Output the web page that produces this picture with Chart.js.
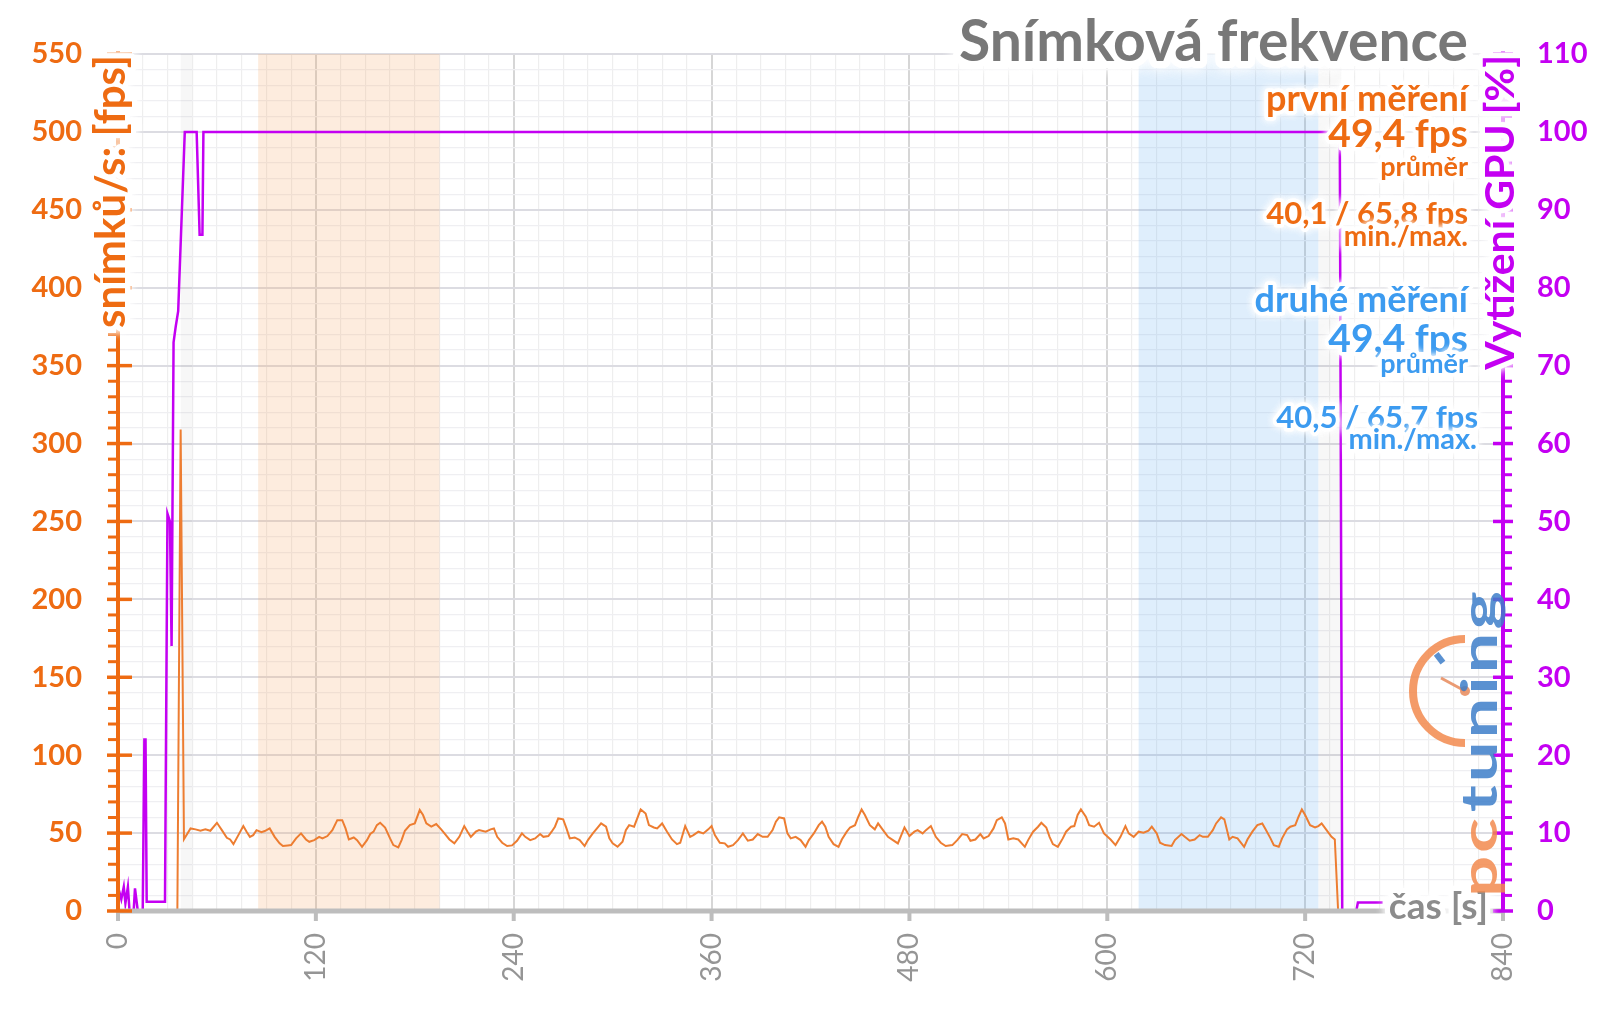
<!DOCTYPE html>
<html lang="cs">
<head>
<meta charset="utf-8">
<title>Snímková frekvence</title>
<script src="https://cdn.jsdelivr.net/npm/chart.js@4.4.1/dist/chart.umd.min.js"></script>
<style>
  html, body { margin: 0; padding: 0; background: #fff; }
  #obal { position: relative; width: 1600px; height: 1009px; }
</style>
</head>
<body>
<div id="obal"><canvas id="graf"></canvas></div>
<script>
// snímky za sekundu (cas v s)
var fpsCas = [0, 36, 38, 40, 44, 47, 50, 53, 56, 60, 63, 66, 68, 70, 73, 76, 78, 80, 82, 84, 87, 89, 92, 95, 98, 100, 103, 105, 108, 111, 114, 116, 119, 122, 124, 127, 130, 133, 136, 138, 140, 143, 145, 148, 151, 153, 155, 157, 159, 162, 165, 167, 170, 172, 174,
  177, 180, 183, 185, 187, 190, 193, 196, 198, 201, 204, 207, 210, 212, 214, 217, 219, 223, 226, 228, 230, 233, 236, 239, 242, 245, 247, 250, 253, 256, 258, 261, 263, 265, 267, 270, 272, 274, 277, 280, 283, 285, 288, 291, 293, 296, 298, 300, 303, 306, 308, 310, 313,
  317, 320, 322, 325, 327, 330, 333, 336, 339, 341, 344, 347, 349, 352, 355, 358, 360, 362, 365, 368, 370, 373, 376, 379, 382, 385, 388, 391, 394, 397, 399, 401, 404, 406, 408, 411, 414, 417, 419, 422, 425, 427, 429, 431, 434, 437, 439, 442, 444, 447, 449, 451,
  453, 456, 459, 461, 464, 467, 470, 473, 477, 480, 483, 485, 488, 490, 493, 496, 499, 502, 506, 509, 512, 515, 517, 520, 523, 525, 528, 531, 533, 536, 538, 540, 543, 546, 550, 552, 555, 558, 560, 563, 565, 567, 570, 573, 575, 578, 580, 582, 584, 587, 589,
  592, 595, 598, 602, 605, 608, 611, 613, 616, 619, 622, 625, 627, 630, 632, 635, 639, 641, 645, 647, 650, 653, 656, 658, 661, 664, 666, 669, 671, 674, 676, 679, 683, 685, 688, 691, 694, 696, 699, 701, 704, 706, 709, 711, 714, 716, 718, 720, 723, 726, 728, 730, 733, 736, 738, 740, 767];
var fpsHodnoty = [0, 0, 309, 46, 53, 52.4, 51.5, 52.4, 51.5, 56.6, 51.9, 47, 45.9, 42.9, 48.7, 54.5, 50.9, 47.6, 48.7, 51.9, 50.6, 51.3, 53, 47.6, 43.4, 41.7, 42.1, 42.3, 46.6, 49.8, 45.9, 44.4, 45.5, 47.6, 46.6, 48.1, 51.9, 58.3, 58.3, 53, 45.9, 47.2, 45.5, 41.2, 45.5, 49.4, 50.9, 55.1, 56.6, 53.6, 46.6, 42.3, 40.8, 45.5, 51.5,
  55.1, 56.2, 64.8, 61.6, 56.2, 54.1, 55.8, 52.4, 49.8, 45.9, 43.4, 47.6, 54.5, 50.9, 47.6, 50.9, 51.9, 50.9, 52.4, 53, 47.6, 43.8, 41.7, 42.1, 45.1, 49.8, 47.6, 45.5, 46.6, 49.4, 47.6, 48.1, 50.9, 54.1, 59.4, 58.8, 53, 46.6, 47.2, 45.5, 41.7, 45.5, 49.8, 53.6, 56.2, 54.1, 46.6, 43.4, 41.2, 44.4, 51.9, 55.1, 54.1,
  65.2, 62.6, 55.1, 53.6, 53, 56.2, 50.9, 45.9, 42.9, 43.8, 54.5, 47.6, 48.7, 50.9, 49.8, 52.4, 54.5, 48.7, 43.8, 43.4, 41.2, 42.3, 45.5, 49.8, 45.1, 45.9, 49.4, 47.6, 47.6, 51.9, 57.3, 60.1, 59.4, 49.8, 46.6, 47.6, 45.5, 41.2, 45.5, 49.8, 55.1, 57.3, 54.1, 47.6, 42.9, 41.2, 45.9, 50.9, 53.6, 55.1, 60.5, 65.2,
  61.6, 55.1, 52.4, 56.2, 51.9, 47.6, 45.5, 43.4, 53.6, 48.1, 50.9, 51.9, 49.8, 51.9, 54.5, 47.6, 43.8, 41.7, 42.3, 45.5, 49.4, 48.7, 45.1, 45.9, 49.4, 46.6, 48.1, 53, 58.3, 60.1, 56.2, 45.9, 46.6, 45.9, 41.2, 45.5, 50.9, 54.1, 56.6, 53.6, 47.6, 42.9, 41.2, 46.6, 50.9, 54.1, 54.5, 61.6, 65.2, 60.5, 55.1,
  54.1, 56.6, 49.8, 45.9, 42.3, 47.6, 54.5, 49.8, 47.6, 50.9, 50.2, 51.5, 54.1, 49.8, 43.8, 42.3, 41.7, 45.5, 49.4, 47.6, 45.1, 45.9, 48.7, 47.6, 47.6, 51.9, 56.2, 60.1, 58.8, 45.9, 47.6, 46.6, 41.2, 45.9, 50.9, 55.1, 56.2, 52.4, 46.6, 42.3, 41.2, 46.6, 52.4, 54.1, 55.1, 60.5, 65.2, 61.6, 55.1, 53.6, 54.5, 56.2, 51.9, 47.6, 45.9, 0, 0];

// vytizeni GPU v %
var gpuCas = [0, 2, 3.5, 4.5, 6, 7, 9.5, 10.3, 12, 15, 16, 16.7, 17.4, 28.5, 30, 31.5, 32.5, 33.7, 35, 36.5, 40.5, 47.7, 49.5, 51.2, 51.8, 741, 742.5, 751, 752, 767];
var gpuHodnoty = [3.1, 1.5, 3.1, 1.0, 3.1, 0, 0, 2.9, 0, 0, 22, 22, 1.2, 1.2, 51, 50, 34, 73, 75, 77, 100, 100, 86.8, 86.8, 100, 100, 0, 0, 1.1, 1.1];

var casPopisky = [0, 120, 240, 360, 480, 600, 720, 840];
var fpsPopisky = [0, 50, 100, 150, 200, 250, 300, 350, 400, 450, 500, 550];
var gpuPopisky = [0, 10, 20, 30, 40, 50, 60, 70, 80, 90, 100, 110];

// useky mereni
var prvniUsek = [85, 195];
var druhyUsek = [619, 728];
var sedeUseky = [[38, 45], [728, 742]];

var ORANZ = '#EE6B12';
var MODRA = '#3C9BF0';
var FIALOVA = '#C400F2';
var SEDA = '#959595';

function textSeZarem(ctx, text, x, y, font, barva, zar, zarovnani, uprava) {
    ctx.save();
    ctx.font = font;
    ctx.textAlign = zarovnani || 'right';
    ctx.textBaseline = uprava || 'alphabetic';
    ctx.lineJoin = 'round';
    ctx.strokeStyle = 'rgba(255,255,255,0.96)';
    ctx.shadowColor = 'rgba(255,255,255,1)';
    ctx.shadowBlur = zar;
    ctx.lineWidth = zar;
    ctx.strokeText(text, x, y);
    ctx.strokeText(text, x, y);
    ctx.shadowBlur = 0;
    ctx.fillStyle = barva;
    ctx.fillText(text, x, y);
    ctx.restore();
}

var ozdoby = {
    id: 'ozdoby',
    beforeDatasetsDraw: function (chart) {
        var ctx = chart.ctx, a = chart.chartArea, x = chart.scales.x;
        function pas(od, po, barva) {
            var x1 = x.getPixelForValue(od), x2 = x.getPixelForValue(po);
            ctx.fillStyle = barva;
            ctx.fillRect(x1, a.top, x2 - x1, a.bottom - a.top);
        }
        ctx.save();
        sedeUseky.forEach(function (u) { pas(u[0], u[1], 'rgba(0,0,0,0.03)'); });
        pas(prvniUsek[0], prvniUsek[1], 'rgba(247,160,90,0.2)');
        pas(druhyUsek[0], druhyUsek[1], 'rgba(80,160,240,0.18)');
        ctx.restore();
    },
    afterDatasetsDraw: function (chart) {
        var ctx = chart.ctx, a = chart.chartArea;
        var sx = chart.scales.x, sy = chart.scales.y, sy2 = chart.scales.y2;
        ctx.save();
        ctx.lineCap = 'butt';

        // osa x
        ctx.strokeStyle = '#BDBDBD';
        ctx.lineWidth = 5;
        ctx.beginPath();
        ctx.moveTo(a.left, a.bottom); ctx.lineTo(a.right, a.bottom);
        ctx.stroke();
        ctx.lineWidth = 4;
        casPopisky.forEach(function (v) {
            var px = sx.getPixelForValue(v);
            ctx.beginPath(); ctx.moveTo(px, a.bottom); ctx.lineTo(px, a.bottom + 10); ctx.stroke();
        });

        // leva osa
        ctx.strokeStyle = ORANZ;
        ctx.lineWidth = 4;
        ctx.beginPath(); ctx.moveTo(a.left, a.top - 3); ctx.lineTo(a.left, a.bottom); ctx.stroke();
        for (var v = 0; v <= 550; v += 10) {
            var py = sy.getPixelForValue(v);
            ctx.lineWidth = v % 50 === 0 ? 3.5 : 3;
            ctx.beginPath();
            if (v % 50 === 0) { ctx.moveTo(a.left - 11, py); ctx.lineTo(a.left + 14, py); }
            else { ctx.moveTo(a.left - 10, py); ctx.lineTo(a.left, py); }
            ctx.stroke();
        }

        // prava osa
        ctx.strokeStyle = FIALOVA;
        ctx.lineWidth = 4;
        ctx.beginPath(); ctx.moveTo(a.right, a.top - 3); ctx.lineTo(a.right, a.bottom); ctx.stroke();
        for (var g = 0; g <= 110; g += 2) {
            var gy = sy2.getPixelForValue(g);
            ctx.lineWidth = g % 10 === 0 ? 3.5 : 3;
            ctx.beginPath();
            if (g % 10 === 0) { ctx.moveTo(a.right - 10, gy); ctx.lineTo(a.right + 10, gy); }
            else { ctx.moveTo(a.right, gy); ctx.lineTo(a.right + 9, gy); }
            ctx.stroke();
        }
        ctx.restore();

        // nazvy os
        ctx.save();
        ctx.translate(111, 55);
        ctx.rotate(-Math.PI / 2);
        textSeZarem(ctx, 'snímků/s: [fps]', 0, 0, 'bold 42px Lato', ORANZ, 10, 'right', 'middle');
        ctx.restore();
        ctx.save();
        ctx.translate(1501, 55);
        ctx.rotate(-Math.PI / 2);
        textSeZarem(ctx, 'Vytížení GPU [%]', 0, 0, 'bold 41px Lato', FIALOVA, 10, 'right', 'middle');
        ctx.restore();
        textSeZarem(ctx, 'čas [s]', 1488, 919, 'bold 37px Lato', '#8C8C8C', 10, 'right');

        // nadpis
        textSeZarem(ctx, 'Snímková frekvence', 1468, 61, 'bold 57px Lato', '#787878', 14, 'right');

        // popisky mereni
        var popisky = [
            ['první měření', 1468, 111, 36, ORANZ],
            ['49,4 fps', 1468, 147, 39, ORANZ],
            ['průměr', 1468, 176, 27, ORANZ],
            ['40,1 / 65,8 fps', 1468, 224, 31, ORANZ],
            ['min./max.', 1468, 246, 28, ORANZ],
            ['druhé měření', 1468, 312, 36, MODRA],
            ['49,4 fps', 1468, 352, 39, MODRA],
            ['průměr', 1468, 373, 27, MODRA],
            ['40,5 / 65,7 fps', 1478, 428, 31, MODRA],
            ['min./max.', 1477, 449, 29, MODRA]
        ];
        popisky.forEach(function (p) {
            textSeZarem(ctx, p[0], p[1], p[2], 'bold ' + p[3] + 'px Lato', p[4], 7, 'right');
        });

        // logo
        ctx.save();
        ctx.globalAlpha = 0.85;
        ctx.strokeStyle = '#F28A4E';
        ctx.lineWidth = 8;
        ctx.beginPath();
        ctx.arc(1465, 691, 52, Math.PI / 2, Math.PI * 1.5);
        ctx.stroke();
        ctx.strokeStyle = '#3D7EC9';
        ctx.lineWidth = 6;
        ctx.beginPath();
        var uh = Math.PI * 1.29;
        ctx.moveTo(1465 + 36 * Math.cos(uh), 691 + 36 * Math.sin(uh));
        ctx.lineTo(1465 + 47 * Math.cos(uh), 691 + 47 * Math.sin(uh));
        ctx.stroke();
        ctx.strokeStyle = '#E8895A';
        ctx.lineWidth = 3;
        ctx.beginPath(); ctx.moveTo(1441, 678); ctx.lineTo(1465, 691); ctx.stroke();
        ctx.fillStyle = '#E8895A';
        ctx.beginPath(); ctx.arc(1465, 691, 5, 0, Math.PI * 2); ctx.fill();

        ctx.translate(1497, 897);
        ctx.rotate(-Math.PI / 2);
        ctx.scale(1.45, 1);
        ctx.font = 'bold 50px Lato';
        ctx.letterSpacing = '2px';
        ctx.textAlign = 'left';
        ctx.textBaseline = 'alphabetic';
        ctx.fillStyle = '#F28A4E';
        ctx.fillText('pc', 0, 0);
        var w = ctx.measureText('pc').width + 2;
        ctx.fillStyle = '#3D7EC9';
        ctx.fillText('tuning', w, 0);
        ctx.restore();
    }
};

var ctx = document.getElementById('graf').getContext('2d');
var myChart = new Chart(ctx, {
    type: 'line',
    data: {
        datasets: [{
            label: 'Vytížení GPU [%]',
            data: gpuCas.map(function (t, i) { return { x: t, y: gpuHodnoty[i] }; }),
            yAxisID: 'y2',
            borderColor: FIALOVA,
            borderWidth: 2.5,
            pointRadius: 0,
            tension: 0,
            clip: false
        }, {
            label: 'snímků/s',
            data: fpsCas.map(function (t, i) { return { x: t, y: fpsHodnoty[i] }; }),
            yAxisID: 'y',
            borderColor: '#ED7D31',
            borderWidth: 2,
            pointRadius: 0,
            tension: 0,
            clip: false
        }]
    },
    options: {
        responsive: true,
        maintainAspectRatio: false,
        animation: false,
        layout: { padding: { top: 54, left: 0, right: 0, bottom: 0 } },
        plugins: {
            legend: { display: false },
            tooltip: { enabled: false },
            title: { display: false }
        },
        scales: {
            x: {
                type: 'linear',
                min: 0,
                max: 840,
                border: { display: false },
                grid: {
                    drawTicks: false,
                    color: function (c) { return c.tick && c.tick.value % 120 === 0 ? '#D6D6D6' : '#EEEEEE'; },
                    lineWidth: function (c) { return c.tick && c.tick.value % 120 === 0 ? 2 : 1.2; }
                },
                ticks: {
                    stepSize: 15,
                    autoSkip: false,
                    minRotation: 90,
                    maxRotation: 90,
                    padding: 22,
                    color: SEDA,
                    font: { family: 'Lato', size: 28 },
                    callback: function (v) { return casPopisky.indexOf(v) >= 0 ? String(v) : ''; }
                },
                afterFit: function (s) { s.height = 98; }
            },
            y: {
                position: 'left',
                min: 0,
                max: 550,
                border: { display: false },
                grid: {
                    drawTicks: false,
                    color: function (c) { return c.tick && c.tick.value % 50 === 0 ? '#DCDCE2' : '#EFEFF2'; },
                    lineWidth: function (c) { return c.tick && c.tick.value % 50 === 0 ? 2 : 1.2; }
                },
                ticks: {
                    stepSize: 10,
                    autoSkip: false,
                    padding: 36,
                    color: ORANZ,
                    font: { family: 'Lato', size: 29, weight: 'bold' },
                    callback: function (v) { return fpsPopisky.indexOf(v) >= 0 ? String(v) : ''; }
                },
                afterFit: function (s) { s.width = 118; }
            },
            y2: {
                position: 'right',
                min: 0,
                max: 110,
                border: { display: false },
                grid: { drawOnChartArea: false, drawTicks: false },
                ticks: {
                    stepSize: 2,
                    autoSkip: false,
                    padding: 34,
                    color: FIALOVA,
                    font: { family: 'Lato', size: 29, weight: 'bold' },
                    callback: function (v) { return gpuPopisky.indexOf(v) >= 0 ? String(v) : ''; }
                },
                afterFit: function (s) { s.width = 97; }
            }
        }
    },
    plugins: [ozdoby]
});
</script>
</body>
</html>
